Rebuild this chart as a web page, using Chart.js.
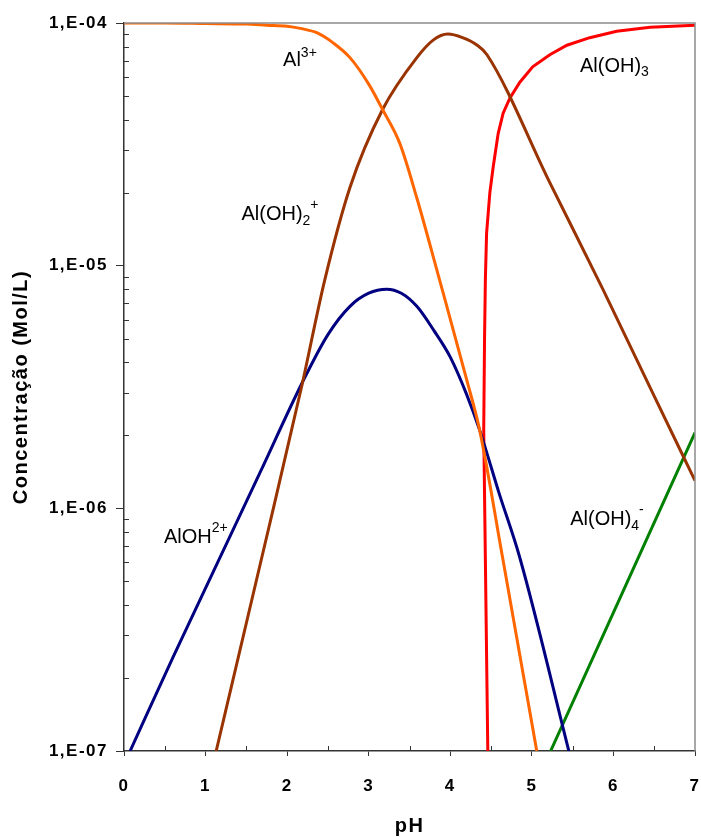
<!DOCTYPE html>
<html>
<head>
<meta charset="utf-8">
<script src="https://cdn.jsdelivr.net/npm/chart.js@4.4.1/dist/chart.umd.min.js"></script>
<style>
    body { margin: 0; background: #fff; }
    canvas { display: block; }
</style>
</head>
<body>
<canvas id="chart" width="701" height="837"></canvas>
<script>
// Al speciation vs pH

const phAl3 = [0, 0.5, 1.0, 1.5, 1.75, 2.0, 2.16, 2.37, 2.56, 2.77, 3.0, 3.17, 3.38, 3.59, 3.87, 4.2, 4.36, 4.64, 5.06];
const concAl3 = [1.0e-4, 1.0e-4, 9.95e-5, 9.9e-5, 9.8e-5, 9.7e-5, 9.5e-5, 9.1e-5, 8.3e-5, 7.2e-5, 5.6e-5, 4.4e-5, 3.2e-5, 1.9e-5, 8.7e-6, 3.4e-6, 2.1e-6, 6.3e-7, 1.0e-7];

const phAlOH2 = [1.13, 1.70, 2.18, 2.46, 2.77, 3.17, 3.59, 3.79, 3.97, 4.15, 4.33, 4.45, 5.22, 5.87, 6.5, 7.0];
const concAlOH2 = [1.0e-7, 6.5e-7, 3.2e-6, 8.7e-6, 2.1e-5, 4.4e-5, 7.2e-5, 8.5e-5, 9.0e-5, 8.7e-5, 8.1e-5, 7.4e-5, 2.2e-5, 8.0e-6, 2.9e-6, 1.3e-6];

const phAlOH = [0.075, 0.6, 1.15, 1.67, 2.18, 2.5, 2.77, 3.0, 3.22, 3.4, 3.59, 3.8, 4.0, 4.2, 4.36, 4.6, 4.85, 5.47];
const concAlOH = [1.0e-7, 2.43e-7, 6.0e-7, 1.41e-6, 3.27e-6, 5.2e-6, 6.8e-6, 7.7e-6, 8.0e-6, 7.7e-6, 6.8e-6, 5.4e-6, 4.2e-6, 2.95e-6, 2.1e-6, 1.15e-6, 6.3e-7, 9.5e-8];

const phAlOH3 = [4.46, 4.43, 4.41, 4.42, 4.43, 4.445, 4.485, 4.526, 4.587, 4.648, 4.73, 4.853, 5.01, 5.22, 5.43, 5.71, 6.04, 6.45, 7.0];
const concAlOH3 = [1.0e-7, 6.2e-7, 2.1e-6, 5.0e-6, 8.7e-6, 1.36e-5, 2.0e-5, 2.55e-5, 3.5e-5, 4.25e-5, 4.9e-5, 5.7e-5, 6.6e-5, 7.4e-5, 8.1e-5, 8.7e-5, 9.25e-5, 9.6e-5, 9.8e-5];

const phAlOH4 = [5.23, 6.29, 7.0];
const concAlOH4 = [1.0e-7, 6.1e-7, 2.05e-6];

const yTickValues = [1e-7, 1e-6, 1e-5, 1e-4];
const yTickLabels = ['1,E-07', '1,E-06', '1,E-05', '1,E-04'];

// species labels: text pieces [text, size, baseline shift], anchored at (pH, conc)
const speciesLabels = [
    { ph: 1.95, conc: 6.64e-5, parts: [['Al', 20, 0], ['3+', 14, -9]] },
    { ph: 5.59, conc: 6.3e-5, parts: [['Al(OH)', 20, 0], ['3', 14, 4]] },
    { ph: 1.44, conc: 1.54e-5, parts: [['Al(OH)', 20, 0], ['2', 14, 5], ['+', 14, -11]] },
    { ph: 0.49, conc: 7.2e-7, parts: [['AlOH', 20, 0], ['2+', 14, -11]] },
    { ph: 5.47, conc: 8.5e-7, parts: [['Al(OH)', 20, 0], ['4', 14, 5], ['-', 14, -11]] }
];

function toPoints(xs, ys) {
    return xs.map((x, i) => ({ x: x, y: ys[i] }));
}

function line(data, color, smooth) {
    return {
        data: data,
        borderColor: color,
        borderWidth: 3,
        pointRadius: 0,
        cubicInterpolationMode: smooth ? 'monotone' : 'default',
        tension: smooth ? 0.4 : 0,
        fill: false
    };
}

const FONT = '"Liberation Sans", Arial, sans-serif';

const framePlugin = {
    id: 'frame',
    beforeDraw(chart) {
        const ctx = chart.ctx;
        ctx.save();
        ctx.fillStyle = '#fff';
        ctx.fillRect(0, 0, chart.width, chart.height);
        ctx.restore();
        // the reference text is set a little wider than plain Arial
        ctx.letterSpacing = '1.5px';
    },
    afterDraw(chart) {
        const ctx = chart.ctx;
        const a = chart.chartArea;
        const xs = chart.scales.x;
        const ys = chart.scales.y;
        ctx.save();
        ctx.letterSpacing = '0px';

        // top / right box lines
        ctx.strokeStyle = '#8c8c8c';
        ctx.lineWidth = 1.5;
        ctx.beginPath();
        ctx.moveTo(a.left, a.top);
        ctx.lineTo(a.right, a.top);
        ctx.lineTo(a.right, a.bottom);
        ctx.stroke();

        // minor ticks, inside the plot
        ctx.strokeStyle = '#333';
        ctx.lineWidth = 1;
        ctx.beginPath();
        for (let d = 1e-7; d < 1e-4 * 1.01; d *= 10) {
            for (let m = 2; m <= 9; m++) {
                const v = d * m;
                if (v > 1e-4) continue;
                const py = Math.round(ys.getPixelForValue(v)) + 0.5;
                ctx.moveTo(a.left, py);
                ctx.lineTo(a.left + 5, py);
            }
        }
        for (let v = 0.5; v < 7; v += 1) {
            const px = Math.round(xs.getPixelForValue(v)) + 0.5;
            ctx.moveTo(px, a.bottom);
            ctx.lineTo(px, a.bottom - 5);
        }
        ctx.stroke();

        // species labels
        ctx.fillStyle = '#000';
        ctx.textBaseline = 'alphabetic';
        ctx.textAlign = 'left';
        speciesLabels.forEach(lab => {
            let x = xs.getPixelForValue(lab.ph);
            const y = ys.getPixelForValue(lab.conc);
            lab.parts.forEach(p => {
                ctx.font = p[1] + 'px ' + FONT;
                ctx.fillText(p[0], x, y + p[2]);
                x += ctx.measureText(p[0]).width;
            });
        });
        ctx.restore();
    }
};

new Chart(document.getElementById('chart'), {
    type: 'line',
    data: {
        datasets: [
            line(toPoints(phAl3, concAl3), '#ff6600', true),
            line(toPoints(phAlOH2, concAlOH2), '#993300', true),
            line(toPoints(phAlOH, concAlOH), '#000080', true),
            line(toPoints(phAlOH3, concAlOH3), '#ff0000', false),
            line(toPoints(phAlOH4, concAlOH4), '#008000', false)
        ]
    },
    options: {
        responsive: false,
        animation: false,
        layout: { padding: { top: 23, right: 6, left: 0, bottom: 0 } },
        plugins: {
            legend: { display: false },
            tooltip: { enabled: false }
        },
        scales: {
            x: {
                type: 'linear',
                min: 0,
                max: 7,
                afterFit: scale => {
                    scale.height = 86;
                    scale.paddingLeft = 0;
                    scale.paddingRight = 0;
                },
                ticks: {
                    stepSize: 1,
                    padding: 20,
                    color: '#000',
                    font: { family: FONT, size: 17, weight: 'bold' }
                },
                grid: { drawOnChartArea: false, drawTicks: true, tickLength: 5, color: '#333', lineWidth: 1 },
                border: { color: '#333', width: 1.5 },
                title: {
                    display: true,
                    text: 'pH',
                    color: '#000',
                    padding: { top: 0, bottom: 0 },
                    font: { family: FONT, size: 20, weight: 'bold', lineHeight: 1.1 }
                }
            },
            y: {
                type: 'logarithmic',
                min: 1e-7,
                max: 1e-4,
                afterFit: scale => { scale.width = 124; },
                afterBuildTicks: scale => {
                    scale.ticks = yTickValues.map(v => ({ value: v }));
                },
                ticks: {
                    padding: 8,
                    color: '#000',
                    font: { family: FONT, size: 17, weight: 'bold' },
                    callback: value => {
                        const i = yTickValues.findIndex(v => Math.abs(v - value) / v < 1e-6);
                        return i >= 0 ? yTickLabels[i] : '';
                    }
                },
                grid: { drawOnChartArea: false, drawTicks: true, tickLength: 8, color: '#333', lineWidth: 1 },
                border: { color: '#333', width: 1.5 },
                title: {
                    display: true,
                    text: 'Concentração (Mol/L)',
                    color: '#000',
                    padding: { top: 9, bottom: 0 },
                    font: { family: FONT, size: 20, weight: 'bold', lineHeight: 1.2 }
                }
            }
        }
    },
    plugins: [framePlugin]
});
</script>
</body>
</html>
